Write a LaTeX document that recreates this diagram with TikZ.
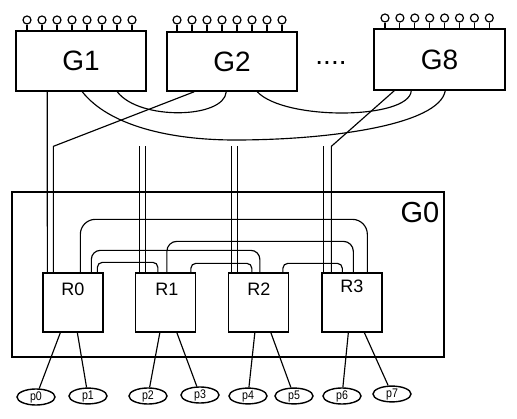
\documentclass[tikz,border=0pt]{standalone}
\usepackage{fontspec}
\setmainfont{Liberation Sans}
\usetikzlibrary{calc,shapes.geometric}
\newcommand{\plab}[1]{\scalebox{0.85}[1]{#1}}
\begin{document}
\begin{tikzpicture}[x=1pt,y=-1pt, line width=1pt,
 gbox/.style={draw, line width=1.5pt, minimum width=130pt, minimum height=60pt, inner sep=0, font=\fontsize{28}{28}\selectfont},
 rbox/.style={draw, line width=1.3pt, minimum width=60pt, minimum height=59pt, inner sep=0},
 rlab/.style={font=\fontsize{18}{18}\selectfont, inner sep=0},
 pinc/.style={draw, circle, minimum size=8pt, inner sep=0, line width=1.2pt},
 port/.style={draw, ellipse, minimum width=38pt, minimum height=15pt, inner sep=0, line width=1.4pt, font=\fontsize{12.5}{12.5}\selectfont},
 link/.style={line width=1.15pt},
]
\useasboundingbox (0,0) rectangle (517,419);

% top boxes
\node[gbox] (G1) at (81,61) {G1};
\node[gbox, minimum height=59pt] (G2) at (232,61.5) {G2};
\node[gbox, minimum width=131pt, minimum height=61pt] (G8) at (439.5,59.5) {G8};
\node[font=\fontsize{28}{28}\selectfont, anchor=base, inner sep=0] (dots) at (331,65) {....};

% pins
\foreach \i in {0,...,7} {
  \node[pinc] (G1p\i) at ({27+15*\i},20) {};
  \draw[link] (G1p\i.south) -- (G1p\i.south |- G1.north);
  \node[pinc] (G2p\i) at ({177+15*\i},20) {};
  \draw[link] (G2p\i.south) -- (G2p\i.south |- G2.north);
  \node[pinc] (G8p\i) at ({385+14.9*\i},18) {};
  \draw[link] (G8p\i.south) -- (G8p\i.south |- G8.north);
}

% G0 and routers
\node[draw, line width=1.3pt, minimum width=432pt, minimum height=165pt, inner sep=0] (G0) at (228,274.5) {};
\node[font=\fontsize{29}{29}\selectfont, inner sep=0] (G0lab) at (420,213) {G0};

\node[rbox] (R0) at (73,302.5) {};
\node[rbox] (R1) at (165.5,302.5) {};
\node[rbox] (R2) at (258.5,302.5) {};
\node[rbox] (R3) at (352,302.5) {};
\node[rlab] (R0t) at (73,289) {R0};
\node[rlab] (R1t) at (167,289) {R1};
\node[rlab] (R2t) at (259,289) {R2};
\node[rlab] (R3t) at (352,286) {R3};

% ports
\node[port] (p0) at (36,397) {\plab{p0}};
\node[port] (p1) at (88,396) {\plab{p1}};
\node[port] (p2) at (148,396) {\plab{p2}};
\node[port] (p3) at (200,395) {\plab{p3}};
\node[port] (p4) at (248,396) {\plab{p4}};
\node[port] (p5) at (294,396) {\plab{p5}};
\node[port] (p6) at (342,396) {\plab{p6}};
\node[port] (p7) at (392,394) {\plab{p7}};

\draw[link] ($(R0.south west)+(18,0)$) -- (p0);
\draw[link] ($(R0.south west)+(35,0)$) -- (p1);
\draw[link] ($(R1.south west)+(25,0)$) -- (p2);
\draw[link] ($(R1.south west)+(42,0)$) -- (p3);
\draw[link] ($(R2.south west)+(27,0)$) -- (p4);
\draw[link] ($(R2.south west)+(43,0)$) -- (p5);
\draw[link] ($(R3.south west)+(27,0)$) -- (p6);
\draw[link] ($(R3.south west)+(43,0)$) -- (p7);

% verticals from groups
\draw[link] ($(G1.south west)+(32,0)$) -- ($(R0.north west)+(5,0)$);
\draw[link] ($(G2.south west)+(28,0)$) -- ($(R0.north west)+(11,-126)$) -- ($(R0.north west)+(11,0)$);
\coordinate (R1a) at ($(R1.north west)+(5,-126)$);
\coordinate (R1b) at ($(R1.north west)+(11,-126)$);
\coordinate (R2a) at ($(R2.north west)+(4,-126)$);
\coordinate (R2b) at ($(R2.north west)+(10,-126)$);
\coordinate (R3a) at ($(R3.north west)+(2,-126)$);
\draw[link] (R1a) -- ($(R1.north west)+(5,0)$);
\draw[link] (R1b) -- ($(R1.north west)+(11,0)$);
\draw[link] (R2a) -- ($(R2.north west)+(4,0)$);
\draw[link] (R2b) -- ($(R2.north west)+(10,0)$);
\draw[link] (R3a) -- ($(R3.north west)+(2,0)$);
\draw[link] ($(G8.south west)+(21,0)$) -- ($(R3.north west)+(10,-126)$) -- ($(R3.north west)+(10,0)$);

% curves between groups
\coordinate (cA) at (235,140);
\draw[link] ($(G1.south west)+(67,0)$) .. controls +(27,34) and +(-65,0) .. (cA)
   .. controls +(95,0) and +(-6,34) .. ($(G8.south west)+(72,0)$);
\draw[link] ($(G1.south west)+(102,0)$) .. controls +(22,29) and +(-2,27) .. ($(G2.south west)+(60,0)$);
\draw[link] ($(G2.south west)+(91,0)$) .. controls +(27,29) and +(-2,29) .. ($(G8.south west)+(38,0)$);

% router links
\draw[link, rounded corners=15pt] ($(R0.north west)+(38,0)$) |- ($(R3.north west)+(46,-53)$) -- ($(R3.north west)+(46,0)$);
\draw[link, rounded corners=10pt] ($(R1.north west)+(32,0)$) |- ($(R3.north west)+(32,-31)$) -- ($(R3.north west)+(32,0)$);
\draw[link, rounded corners=9pt] ($(R0.north west)+(49,0)$) |- ($(R2.north west)+(32,-22)$) -- ($(R2.north west)+(32,0)$);
\draw[link, rounded corners=5pt] ($(R0.north west)+(55,0)$) |- ($(R1.north west)+(23,-10)$) -- ($(R1.north west)+(23,0)$);
\draw[link, rounded corners=5pt] ($(R1.north west)+(56,0)$) |- ($(R2.north west)+(24,-9)$) -- ($(R2.north west)+(24,0)$);
\draw[link, rounded corners=5pt] ($(R2.north west)+(55,0)$) |- ($(R3.north west)+(21,-9)$) -- ($(R3.north west)+(21,0)$);
\end{tikzpicture}
\end{document}
